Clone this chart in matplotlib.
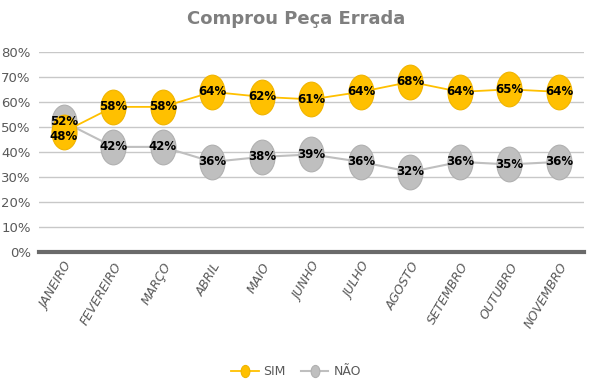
import matplotlib.pyplot as plt
from matplotlib.path import Path
from matplotlib.transforms import Affine2D

meses = ["JANEIRO", "FEVEREIRO", "MARÇO", "ABRIL", "MAIO", "JUNHO",
         "JULHO", "AGOSTO", "SETEMBRO", "OUTUBRO", "NOVEMBRO"]
sim = [48, 58, 58, 64, 62, 61, 64, 68, 64, 65, 64]
nao = [52, 42, 42, 36, 38, 39, 36, 32, 36, 35, 36]
yticks = [0, 10, 20, 30, 40, 50, 60, 70, 80]

amarelo = "#FFC000"
cinza = "#BFBFBF"
fonte = ["Liberation Sans Narrow", "DejaVu Sans"]

# marcador eliptico vertical
elipse = Path.unit_circle().transformed(Affine2D().scale(0.72, 1.0))

fig = plt.figure(figsize=(5.92, 3.87), dpi=100)
ax = fig.add_axes([0.066, 0.349, 0.92, 0.517])
x = list(range(len(meses)))

ax.plot(x, nao, color=cinza, lw=1.5, marker=elipse, ms=25,
        mfc=cinza, mec="#b0b0b0", mew=0.8, label="NÃO", zorder=3)
ax.plot(x, sim, color=amarelo, lw=1.3, marker=elipse, ms=25,
        mfc=amarelo, mec="#f0b400", mew=0.8, label="SIM", zorder=4)

for i in x:
    dy_sim = -2 if i == 0 else 0
    ax.text(i, sim[i] + dy_sim, f"{sim[i]}%", ha="center", va="center",
            fontsize=8.5, fontweight="bold", family=fonte, zorder=6)
    ax.text(i, nao[i], f"{nao[i]}%", ha="center", va="center",
            fontsize=8.5, fontweight="bold", family=fonte, zorder=6)

ax.set_xlim(-0.5, len(meses) - 0.5)
ax.set_ylim(0, 80)
ax.set_yticks(yticks)
ax.set_yticklabels([f"{v}%" for v in yticks], color="#595959", fontsize=9.5,
                   family=fonte)
ax.set_xticks(x)
ax.set_xticklabels(meses, rotation=60, ha="right", rotation_mode="anchor",
                   color="#595959", fontsize=9, style="italic", family=fonte)
ax.tick_params(length=0, pad=6)
ax.grid(axis="y", color="#c8c8c8", lw=1)
ax.set_axisbelow(True)
for s in ["top", "right", "left"]:
    ax.spines[s].set_visible(False)
ax.spines["bottom"].set_color("#6a6a6a")
ax.spines["bottom"].set_linewidth(3)

fig.suptitle("Comprou Peça Errada", x=0.5, y=0.975, fontsize=13,
             fontweight="bold", color="#7f7f7f")

h, l = ax.get_legend_handles_labels()
leg = fig.legend(h[::-1], l[::-1], loc="center", bbox_to_anchor=(0.5, 0.04),
                 ncol=2, frameon=False, fontsize=9, markerscale=0.35,
                 handlelength=2.2, columnspacing=1.2, handletextpad=0.4)
for t in leg.get_texts():
    t.set_color("#595959")

fig.savefig("out.png", dpi=100)
